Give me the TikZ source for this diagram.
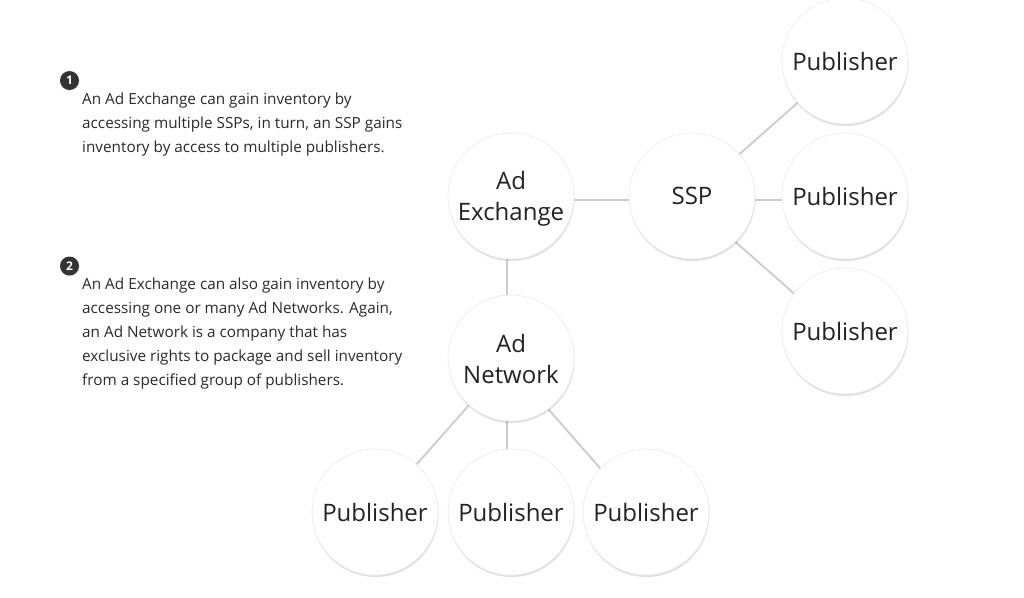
\documentclass[tikz,border=0pt]{standalone}
\usepackage{fontspec}
\setmainfont{Open Sans}
\usetikzlibrary{shadows,backgrounds,calc}
\definecolor{linkgray}{HTML}{CCCCCC}
\definecolor{txt}{HTML}{2A2A2A}
\definecolor{nodetxt}{HTML}{222222}
\definecolor{badge}{HTML}{333333}
\tikzset{
  bubble/.style={circle, minimum size=126pt, inner sep=0pt, fill=white, draw=black!8, line width=0.6pt,
    drop shadow={shadow xshift=0.5pt, shadow yshift=-2pt, opacity=0.12, fill=black},
    text=nodetxt, align=center, font=\fontsize{24}{31}\selectfont},
  bubbletext/.style={inner sep=0pt, text=nodetxt, align=center, font=\fontsize{24}{31}\selectfont},
  link/.style={draw=linkgray, line width=1.8pt},
  numbadge/.style={circle, fill=badge, minimum size=19pt, inner sep=0pt, text=white,
    font=\fontsize{12}{12}\selectfont\bfseries,
    drop shadow={shadow xshift=0.5pt, shadow yshift=-1pt, opacity=0.2}},
  para/.style={anchor=north west, inner sep=0pt, align=left, text=txt, font=\fontsize{15.3}{24}\selectfont}
}
\begin{document}
\begin{tikzpicture}[x=1pt,y=-1pt]
\useasboundingbox (0,0) rectangle (1024,597);
\node[bubble] (adx) at (511,196) {};
\node[bubbletext] (adxt) at ([yshift=-3pt]adx.center) {Ad\\Exchange};
\node[bubble] (ssp) at (692,196) {SSP};
\node[bubble] (p1) at (845,61) {Publisher};
\node[bubble] (p2) at (845,196) {Publisher};
\node[bubble] (p3) at (845,331) {Publisher};
\node[bubble] (adn) at (511,358) {};
\node[bubbletext] (adnt) at ([yshift=-1pt]adn.center) {Ad\\Network};
\node[bubble] (b1) at (375,512) {Publisher};
\node[bubble] (b2) at (511,512) {Publisher};
\node[bubble] (b3) at (646,512) {Publisher};
\begin{scope}[on background layer]
\fill[white] (0,0) rectangle (1024,597);
\draw[link] ($(adx.center)+(-4,4)$) -- ($(ssp.center)+(-4,4)$);
\draw[link] ($(ssp.center)+(-4,4)$) -- ($(p2.center)+(-4,4)$);
\draw[link] ($(ssp.center)+(0,0)$) -- ($(p1.center)+(0,0)$);
\draw[link] ($(ssp.center)+(-4,4)$) -- ($(p3.center)+(-4,4)$);
\draw[link] ($(adx.center)+(-4,4)$) -- ($(adn.center)+(-4,4)$);
\draw[link] ($(adn.center)+(-4,4)$) -- ($(b1.center)+(-4,4)$);
\draw[link] ($(adn.center)+(-4,4)$) -- ($(b2.center)+(-4,4)$);
\draw[link] ($(adn.center)+(-4,4)$) -- ($(b3.center)+(-4,4)$);
\end{scope}
\node[numbadge] (n1) at (69.5,80.5) {1};
\node[numbadge] (n2) at (69.5,266) {2};
\node[para] (t1) at (82,93) {An Ad Exchange can gain inventory by\\accessing multiple SSPs, in turn, an SSP gains\\inventory by access to multiple publishers.};
\node[para] (t2) at (82,278) {An Ad Exchange can also gain inventory by\\accessing one or many Ad Networks. Again,\\an Ad Network is a company that has\\exclusive rights to package and sell inventory\\from a specified group of publishers.};
\end{tikzpicture}
\end{document}
